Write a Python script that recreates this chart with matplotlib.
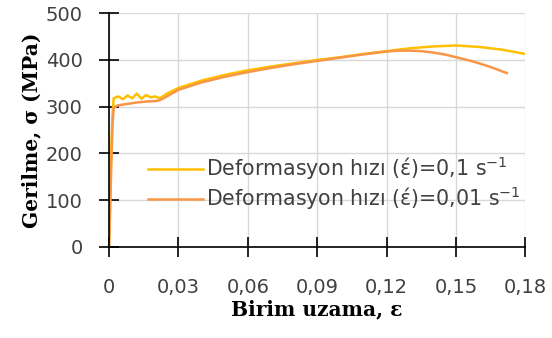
import numpy as np
import matplotlib
matplotlib.use("Agg")
import matplotlib.pyplot as plt

# strain / stress
eps_fast = [0, 0.0005, 0.001, 0.0015, 0.002, 0.004, 0.006, 0.008, 0.010, 0.012,
            0.014, 0.016, 0.018, 0.020, 0.022, 0.025, 0.03, 0.04, 0.05, 0.06,
            0.07, 0.08, 0.09, 0.10, 0.11, 0.12, 0.13, 0.14, 0.15, 0.16, 0.17, 0.18]
sig_fast = [0, 120, 210, 280, 318, 322, 316, 324, 318, 328,
            317, 325, 320, 322, 318, 328, 340, 356, 368, 378,
            386, 393, 400, 406, 413, 419, 425, 429, 431, 428, 422, 413]

eps_slow = [0, 0.0005, 0.001, 0.0015, 0.002, 0.004, 0.008, 0.012, 0.016, 0.020,
            0.022, 0.025, 0.03, 0.04, 0.05, 0.06, 0.07, 0.08, 0.09, 0.10,
            0.11, 0.12, 0.125, 0.13, 0.135, 0.14, 0.145, 0.15, 0.155, 0.16,
            0.165, 0.172]
sig_slow = [0, 80, 180, 260, 298, 303, 306, 309, 311, 312,
            314, 322, 336, 352, 364, 374, 383, 391, 398, 405,
            412, 418, 420, 420, 419, 416, 412, 406, 400, 393,
            385, 372]

labels = ["Deformasyon hızı (έ)=0,1 s$^{-1}$", "Deformasyon hızı (έ)=0,01 s$^{-1}$"]
xticks = [0, 0.03, 0.06, 0.09, 0.12, 0.15, 0.18]
xticklabels = ["0", "0,03", "0,06", "0,09", "0,12", "0,15", "0,18"]
yticks = [0, 100, 200, 300, 400, 500]

plt.rcParams['font.family'] = ['DejaVu Sans']
plt.rcParams['mathtext.fontset'] = 'dejavusans'

fig = plt.figure(figsize=(5.52, 3.38), dpi=100)
ax = fig.add_axes([0.1975, 0.2698, 0.9516 - 0.1975, 0.9607 - 0.2698])

ax.plot(eps_fast, sig_fast, color='#FFC000', lw=1.8, label=labels[0])
ax.plot(eps_slow, sig_slow, color='#F79646', lw=1.8, label=labels[1])

ax.set_xlim(0, 0.18)
ax.set_ylim(0, 500)
ax.set_xticks(xticks)
ax.set_xticklabels(xticklabels)
ax.set_yticks(yticks)
ax.grid(True, color='#d9d9d9', lw=1)
ax.set_axisbelow(True)

for s in ['top', 'right']:
    ax.spines[s].set_visible(False)
for s in ['left', 'bottom']:
    ax.spines[s].set_color('black')
    ax.spines[s].set_linewidth(1.2)

ax.tick_params(which='major', direction='inout', length=14, width=1.2,
               color='black', labelsize=14, labelcolor='#404040')
ax.tick_params(axis='x', pad=15.5)
ax.tick_params(axis='y', pad=12)
for t in ax.xaxis.get_major_ticks() + ax.yaxis.get_major_ticks():
    t.tick1line.set_zorder(3)

ax.set_xlabel("Birim uzama, ε", family='DejaVu Serif', fontweight='bold',
              fontsize=14.5, labelpad=2)
ax.set_ylabel("Gerilme, σ (MPa)", family='DejaVu Serif', fontweight='bold',
              fontsize=14.5, labelpad=3)

leg = ax.legend(loc='upper left', bbox_to_anchor=(0.073, 0.43), frameon=False,
                fontsize=14.8, handlelength=2.7, handletextpad=0.12,
                labelspacing=0.12, borderaxespad=0)
for t in leg.get_texts():
    t.set_color('#404040')

fig.savefig("out.png", dpi=100)
